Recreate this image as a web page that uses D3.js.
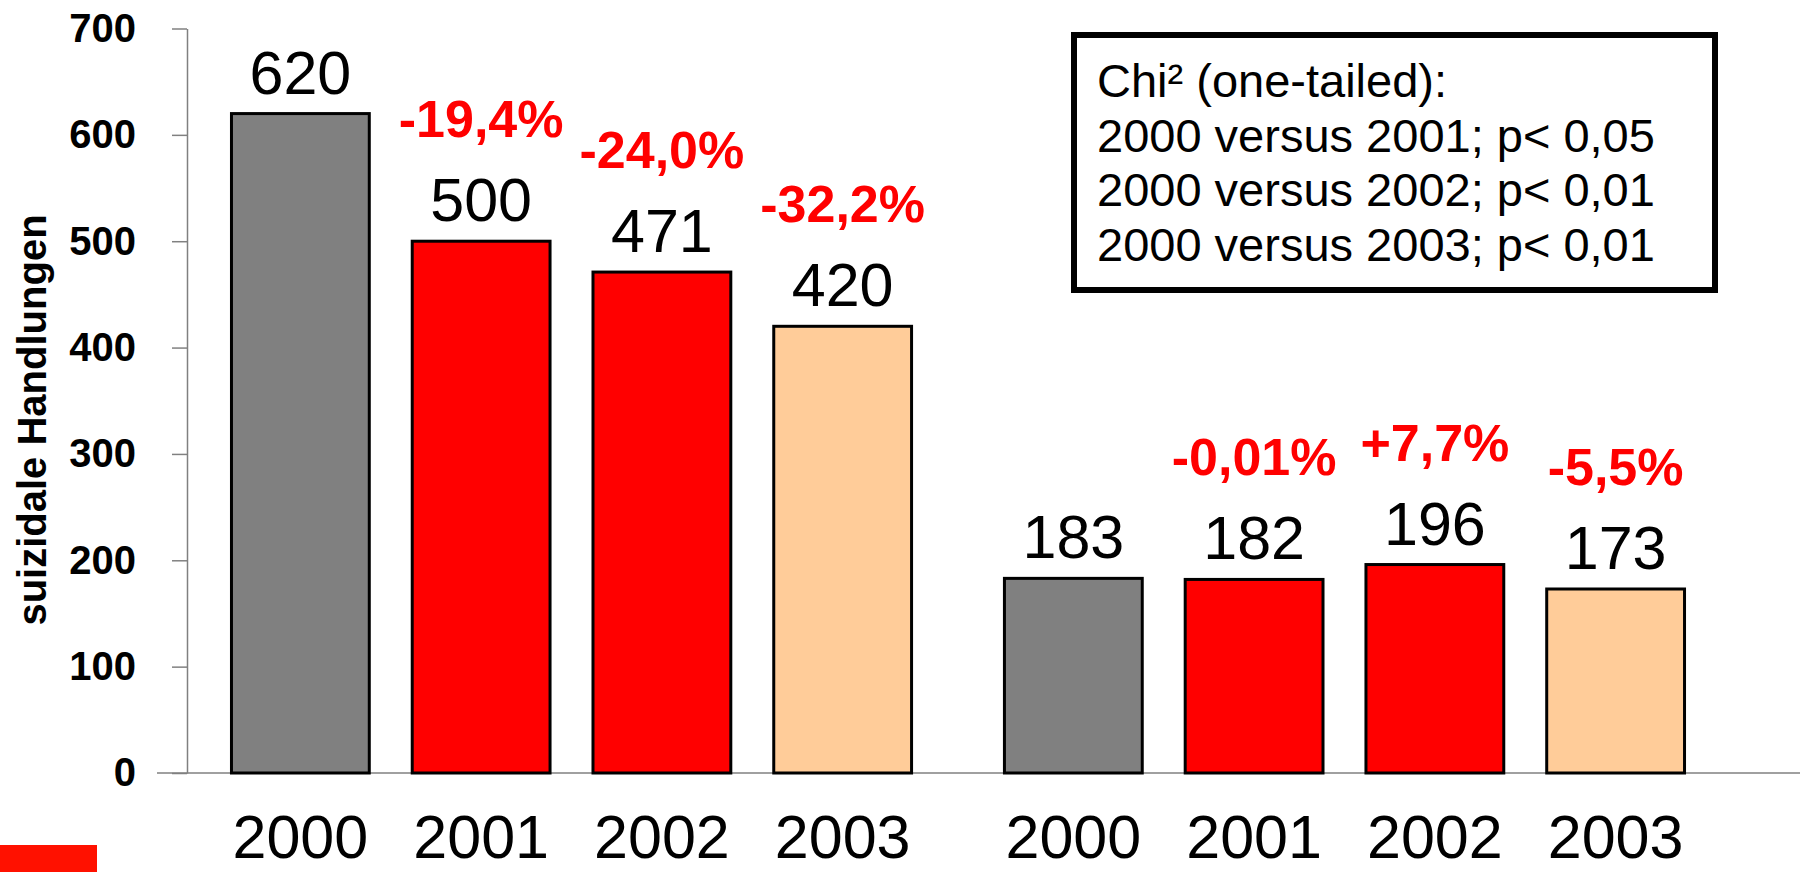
<!DOCTYPE html>
<html>
<head>
<meta charset="utf-8">
<script src="https://d3js.org/d3.v7.min.js"></script>
<style>
  body { margin: 0; background: #fff; }
  svg { display: block; font-family: "Liberation Sans", Arial, Helvetica, sans-serif; }
</style>
</head>
<body>
<div id="chart"></div>
<script>
// data
var years = ['2000', '2001', '2002', '2003'];
var groups = ['A', 'B'];
var valuesA = [620, 500, 471, 420];
var valuesB = [183, 182, 196, 173];
var changesA = ['', '-19,4%', '-24,0%', '-32,2%'];
var changesB = ['', '-0,01%', '+7,7%', '-5,5%'];
var yearColors = ['#808080', '#ff0000', '#ff0000', '#ffcc99'];
var yTicks = [0, 100, 200, 300, 400, 500, 600, 700];
var statLines = [
  'Chi\u00b2 (one-tailed):',
  '2000 versus 2001; p< 0,05',
  '2000 versus 2002; p< 0,01',
  '2000 versus 2003; p< 0,01'
];
var yTitle = 'suizidale Handlungen';

var width = 1800, height = 872;

var svg = d3.select('#chart').append('svg')
    .attr('width', width)
    .attr('height', height);

var y = d3.scaleLinear().domain([0, 700]).range([773, 28.5]);

var gx = d3.scaleBand().domain(groups).range([210, 1706]).paddingInner(0.0646).paddingOuter(0);
var x = d3.scaleBand().domain(years).range([0, gx.bandwidth()]).paddingInner(0.2376).paddingOuter(0.1188);

var rows = [];
groups.forEach(function (g, gi) {
  var vals = gi === 0 ? valuesA : valuesB;
  var chg = gi === 0 ? changesA : changesB;
  years.forEach(function (yr, i) {
    rows.push({ group: g, year: yr, value: vals[i], change: chg[i], color: yearColors[i] });
  });
});

function cx(d) { return gx(d.group) + x(d.year) + x.bandwidth() / 2; }

// y axis
var axis = svg.append('g')
    .attr('transform', 'translate(187,0)')
    .call(d3.axisLeft(y).tickValues(yTicks).tickSize(15).tickSizeOuter(0).tickPadding(36));
axis.select('.domain').attr('stroke', '#808080').attr('stroke-width', 1.5);
axis.selectAll('.tick line').attr('stroke', '#808080').attr('stroke-width', 1.5);
axis.selectAll('.tick text')
    .attr('fill', '#000')
    .style('font-size', '40px')
    .style('font-weight', 'bold')
    .style('font-family', '"Liberation Sans", Arial, sans-serif');

// baseline
svg.append('line')
    .attr('x1', 157).attr('x2', width)
    .attr('y1', y(0)).attr('y2', y(0))
    .attr('stroke', '#808080').attr('stroke-width', 1.5);

// bars
svg.selectAll('rect.bar').data(rows).enter().append('rect')
    .attr('class', 'bar')
    .attr('x', function (d) { return gx(d.group) + x(d.year); })
    .attr('y', function (d) { return y(d.value); })
    .attr('width', x.bandwidth())
    .attr('height', function (d) { return y(0) - y(d.value); })
    .attr('fill', function (d) { return d.color; })
    .attr('stroke', '#000')
    .attr('stroke-width', 3);

// value labels
svg.selectAll('text.val').data(rows).enter().append('text')
    .attr('class', 'val')
    .attr('x', cx)
    .attr('y', function (d) { return y(d.value) - 20; })
    .attr('text-anchor', 'middle')
    .style('font-size', '61px')
    .text(function (d) { return d.value; });

// percent change labels
svg.selectAll('text.chg').data(rows.filter(function (d) { return d.change; })).enter().append('text')
    .attr('class', 'chg')
    .attr('x', cx)
    .attr('y', function (d) { return y(d.value) - 104; })
    .attr('text-anchor', 'middle')
    .attr('fill', '#ff0000')
    .style('font-size', '52px')
    .style('font-weight', 'bold')
    .text(function (d) { return d.change; });

// year labels
svg.selectAll('text.yr').data(rows).enter().append('text')
    .attr('class', 'yr')
    .attr('x', cx)
    .attr('y', 858)
    .attr('text-anchor', 'middle')
    .style('font-size', '61px')
    .text(function (d) { return d.year; });

// y title
svg.append('text')
    .attr('transform', 'translate(46,420) rotate(-90)')
    .attr('text-anchor', 'middle')
    .style('font-size', '40px')
    .style('font-weight', 'bold')
    .text(yTitle);

// statistics box
svg.append('rect')
    .attr('x', 1074).attr('y', 35)
    .attr('width', 641).attr('height', 255)
    .attr('fill', '#fff')
    .attr('stroke', '#000')
    .attr('stroke-width', 6);

svg.append('g').selectAll('text').data(statLines).enter().append('text')
    .attr('x', 1097)
    .attr('y', function (d, i) { return 97 + i * 54.5; })
    .style('font-size', '47px')
    .text(function (d) { return d; });

// red marker bottom left
svg.append('rect')
    .attr('x', 0).attr('y', 845)
    .attr('width', 97).attr('height', 27)
    .attr('fill', '#ff1100');
</script>
</body>
</html>
